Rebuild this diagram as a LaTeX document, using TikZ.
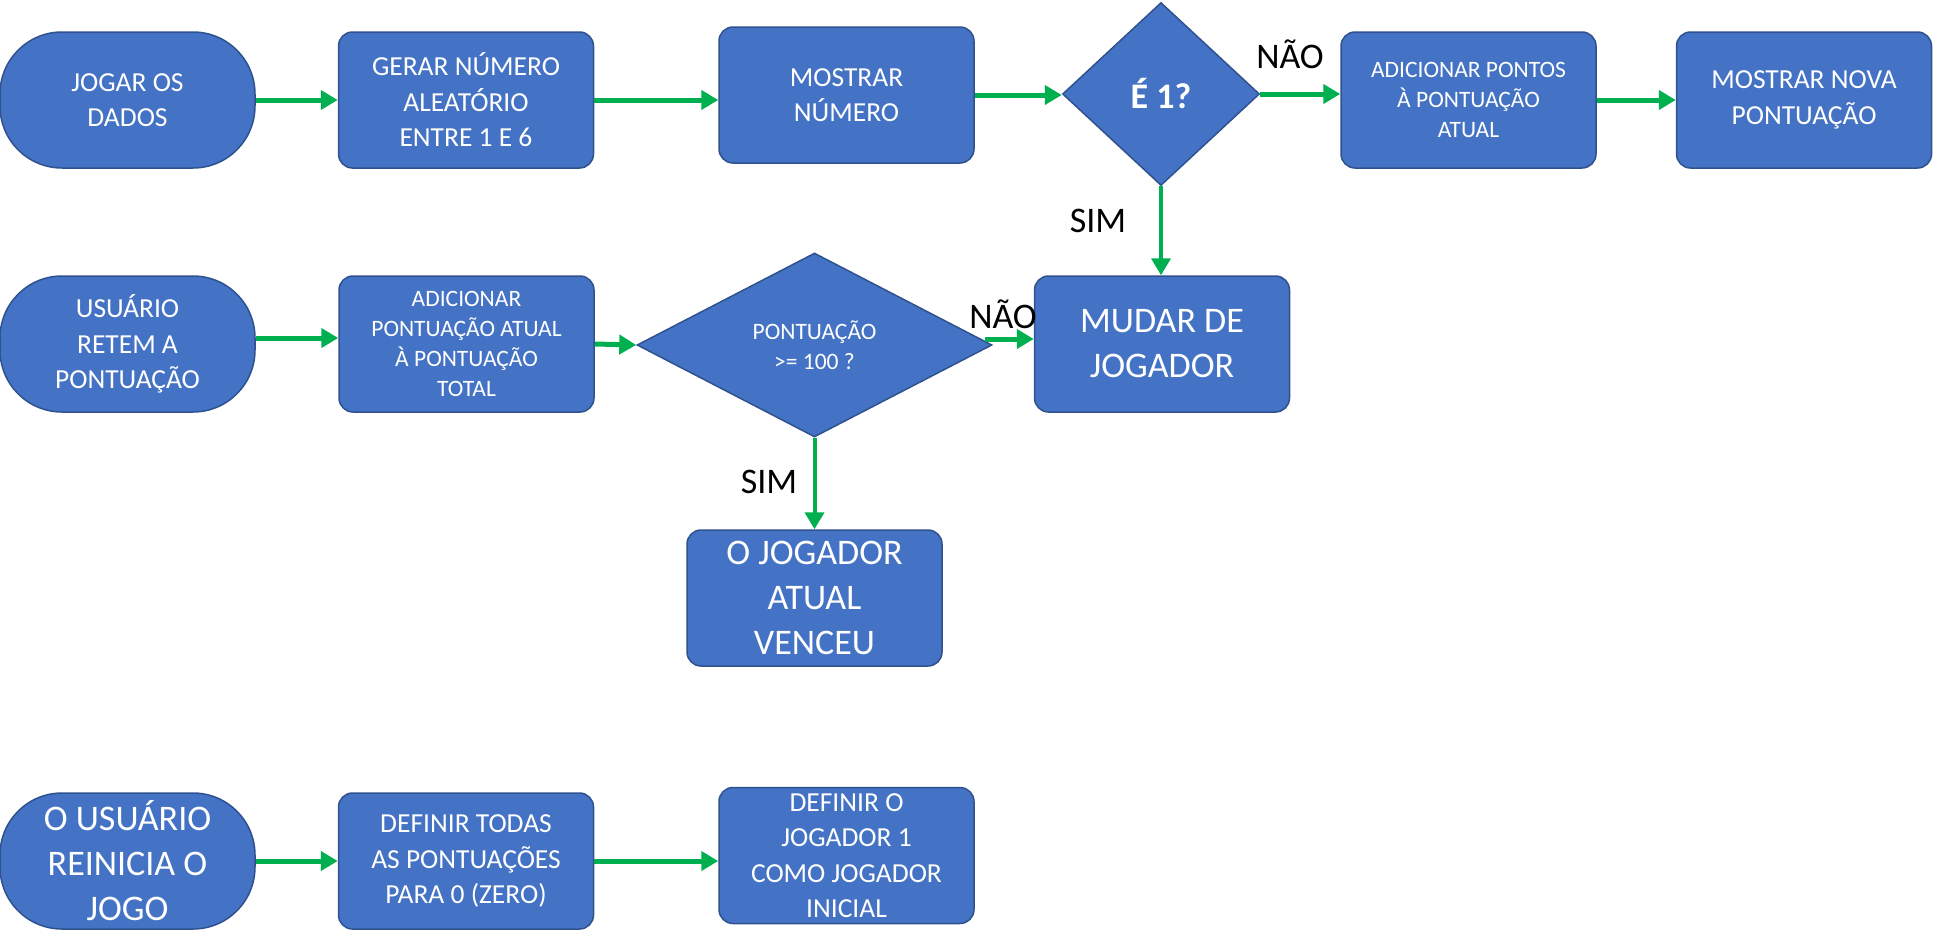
\documentclass[tikz,border=0pt]{standalone}
\usepackage{fontspec}
\setmainfont{Carlito}
\usetikzlibrary{shapes.geometric,arrows.meta}
\definecolor{caixa}{HTML}{4472C4}
\definecolor{borda}{HTML}{2F528F}
\definecolor{verde}{HTML}{00B050}

\begin{document}
\begin{tikzpicture}[x=1pt, y=-1pt,
	main/.style = {draw=borda, line width=1.5pt, fill=caixa, text=white, align=center, inner sep=0pt, minimum width=255pt, minimum height=136pt, rounded corners=14pt},
	term/.style = {main, rounded corners=62pt},
	decisao/.style = {diamond, draw=borda, line width=1.5pt, fill=caixa, text=white, align=center, inner sep=0pt},
	grande/.style = {font=\fontsize{36}{45}\selectfont},
	medio/.style = {font=\fontsize{27.5}{35.5}\selectfont},
	pequeno/.style = {font=\fontsize{23.5}{30}\selectfont},
	seta/.style = {draw=verde, line width=5pt, -{Triangle[length=17pt,width=19pt]}},
	rotulo/.style = {grande, anchor=base, inner sep=0pt}]

		\useasboundingbox (0,0) rectangle (1933,951);

		\node[term, medio] (jogar) at (127.5,100) {JOGAR OS\\DADOS};
		\node[main, medio] (gerar) at (466,100) {GERAR NÚMERO\\ALEATÓRIO\\ENTRE 1 E 6};
		\node[main, medio] (mostrar) at (846.5,95) {MOSTRAR\\NÚMERO};
		\node[decisao, grande, minimum width=197pt, minimum height=183pt] (e1) at (1161,94) {\bfseries É 1?};
		\node[main, pequeno] (somar) at (1468.5,100) {ADICIONAR PONTOS\\À PONTUAÇÃO\\ATUAL};
		\node[main, medio] (nova) at (1804,100) {MOSTRAR NOVA\\PONTUAÇÃO};

		\node[term, medio] (retem) at (127.5,344) {USUÁRIO\\RETEM A\\PONTUAÇÃO};
		\node[main, pequeno] (total) at (466.5,344) {ADICIONAR\\PONTUAÇÃO ATUAL\\À PONTUAÇÃO\\TOTAL};
		\node[decisao, pequeno, shape aspect=1.93, minimum width=355pt, minimum height=184pt] (cem) at (814.5,345) {PONTUAÇÃO\\>= 100 ?};
		\node[main, grande] (mudar) at (1162,344) {MUDAR DE\\JOGADOR};
		\node[main, grande] (venceu) at (814.5,598) {O JOGADOR\\ATUAL\\VENCEU};

		\node[term, grande] (reinicia) at (127.5,861) {O USUÁRIO\\REINICIA O\\JOGO};
		\node[main, medio] (zerar) at (466,861) {DEFINIR TODAS\\AS PONTUAÇÕES\\PARA 0 (ZERO)};
		\node[main, medio] (inicial) at (846.5,855.5) {DEFINIR O\\JOGADOR 1\\COMO JOGADOR\\INICIAL};

		\draw[seta] (jogar) -- (gerar);
		\draw[seta] (gerar.east) -- (gerar.east -| mostrar.west);
		\draw[seta] (mostrar.east) -- (mostrar.east -| e1.west);
		\draw[seta] (e1.east) -- (e1.east -| somar.west);
		\draw[seta] (somar) -- (nova);
		\draw[seta, line width=4pt] (e1.south) -- (e1.south |- mudar.north);

		\draw[seta] ([yshift=6pt]retem.east) -- ([yshift=6pt]retem.east -| total.west);
		\draw[seta] (total.east) -- (cem.west);
		\draw[seta] ([xshift=-8pt,yshift=6pt]cem.east) -- ([yshift=6pt]cem.east -| mudar.west);
		\draw[seta, line width=4pt] (cem.south) -- (cem.south |- venceu.north);

		\draw[seta] (reinicia) -- (zerar);
		\draw[seta] (zerar.east) -- (zerar.east -| inicial.west);

		\node[rotulo] (nao1) at (1290,68) {NÃO};
		\node[rotulo] (sim1) at (1098,232) {SIM};
		\node[rotulo] (nao2) at (1003,328) {NÃO};
		\node[rotulo] (sim2) at (769,493) {SIM};
	\end{tikzpicture}
\end{document}
